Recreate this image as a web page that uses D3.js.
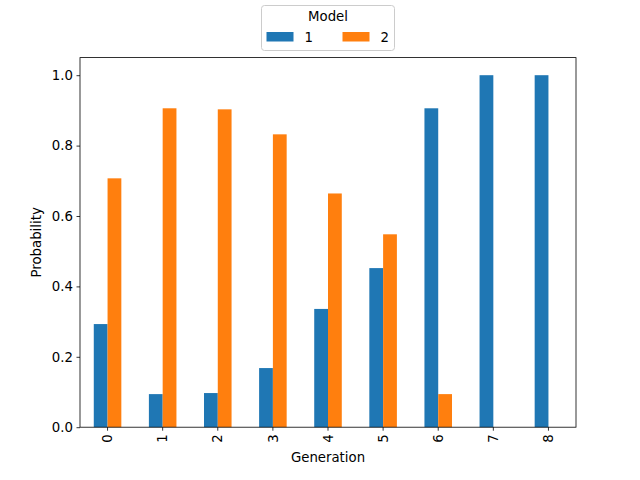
<!DOCTYPE html>
<html>
<head>
<meta charset="utf-8">
<script src="https://cdn.jsdelivr.net/npm/d3@7"></script>
<style>
  body { margin: 0; background: #fff; }
  svg { font-family: "DejaVu Sans", sans-serif; }
</style>
</head>
<body>
<div id="root"></div>
<script>
// data
const generations = ['0', '1', '2', '3', '4', '5', '6', '7', '8'];
const model1 = [0.293, 0.094, 0.097, 0.168, 0.336, 0.452, 0.906, 1.0, 1.0];
const model2 = [0.707, 0.906, 0.903, 0.832, 0.664, 0.548, 0.094, null, null];
const seriesNames = ['1', '2'];
const yTicks = [0.0, 0.2, 0.4, 0.6, 0.8, 1.0];

const colours = ['#1f77b4', '#ff7f0e'];
const width = 640, height = 480;
const margin = { left: 80, right: 64, top: 57.6, bottom: 52.8 };

const svg = d3.select('#root').append('svg')
  .attr('width', width)
  .attr('height', height);

// ------------------------------------------------------------------ SCALES
const x = d3.scaleBand()
  .domain(generations)
  .range([margin.left, width - margin.right])
  .paddingInner(0.5)
  .paddingOuter(0.25);

const xs = d3.scaleBand()
  .domain(seriesNames)
  .range([0, x.bandwidth()]);

const y = d3.scaleLinear()
  .domain([0, 1.05])
  .range([height - margin.bottom, margin.top]);

// ------------------------------------------------------------------ BARS
const series = [model1, model2];
series.forEach((vals, si) => {
  svg.append('g')
    .selectAll('rect')
    .data(generations.map((g, i) => ({ g, v: vals[i] })).filter(d => d.v != null))
    .join('rect')
    .attr('x', d => x(d.g) + xs(seriesNames[si]))
    .attr('width', xs.bandwidth())
    .attr('y', d => y(d.v))
    .attr('height', d => y(0) - y(d.v))
    .attr('fill', colours[si]);
});

// ------------------------------------------------------------------ AXES
const xAxis = svg.append('g')
  .attr('transform', `translate(0,${height - margin.bottom})`)
  .call(d3.axisBottom(x).tickSize(3.5).tickPadding(3.5));
xAxis.selectAll('text')
  .attr('transform', 'rotate(-90)')
  .attr('text-anchor', 'end')
  .attr('dx', '0')
  .attr('dy', '0.35em')
  .attr('x', -7)
  .attr('y', 0);

const yAxis = svg.append('g')
  .attr('transform', `translate(${margin.left},0)`)
  .call(d3.axisLeft(y).tickValues(yTicks).tickFormat(d3.format('.1f')).tickSize(3.5).tickPadding(3.5));

[xAxis, yAxis].forEach(a => {
  a.select('.domain').remove();
  a.selectAll('text').attr('font-size', 13.3).attr('fill', '#000').attr('font-family', '"DejaVu Sans", sans-serif');
  a.selectAll('line').attr('stroke', '#000').attr('stroke-width', 0.8);
});

// frame
svg.append('rect')
  .attr('x', margin.left)
  .attr('y', margin.top)
  .attr('width', width - margin.left - margin.right)
  .attr('height', height - margin.top - margin.bottom)
  .attr('fill', 'none')
  .attr('stroke', '#000')
  .attr('stroke-width', 0.8);

// labels
svg.append('text')
  .attr('x', (margin.left + width - margin.right) / 2)
  .attr('y', 462)
  .attr('text-anchor', 'middle')
  .attr('font-size', 13.3)
  .text('Generation');

svg.append('text')
  .attr('transform', `translate(41,${(margin.top + height - margin.bottom) / 2}) rotate(-90)`)
  .attr('text-anchor', 'middle')
  .attr('font-size', 13.3)
  .text('Probability');

// ------------------------------------------------------------------ LEGEND
const legend = svg.append('g').attr('transform', 'translate(261.5,5.5)');
legend.append('rect')
  .attr('width', 133)
  .attr('height', 45)
  .attr('rx', 3)
  .attr('fill', '#fff')
  .attr('stroke', '#ccc')
  .attr('stroke-width', 1);
legend.append('text')
  .attr('x', 66.5)
  .attr('y', 15.5)
  .attr('text-anchor', 'middle')
  .attr('font-size', 13.3)
  .text('Model');
seriesNames.forEach((n, i) => {
  const gx = 5 + i * 76;
  legend.append('rect')
    .attr('x', gx)
    .attr('y', 26.5)
    .attr('width', 27)
    .attr('height', 9.5)
    .attr('fill', colours[i]);
  legend.append('text')
    .attr('x', gx + 38)
    .attr('y', 36)
    .attr('font-size', 13.3)
    .text(n);
});
</script>
</body>
</html>
